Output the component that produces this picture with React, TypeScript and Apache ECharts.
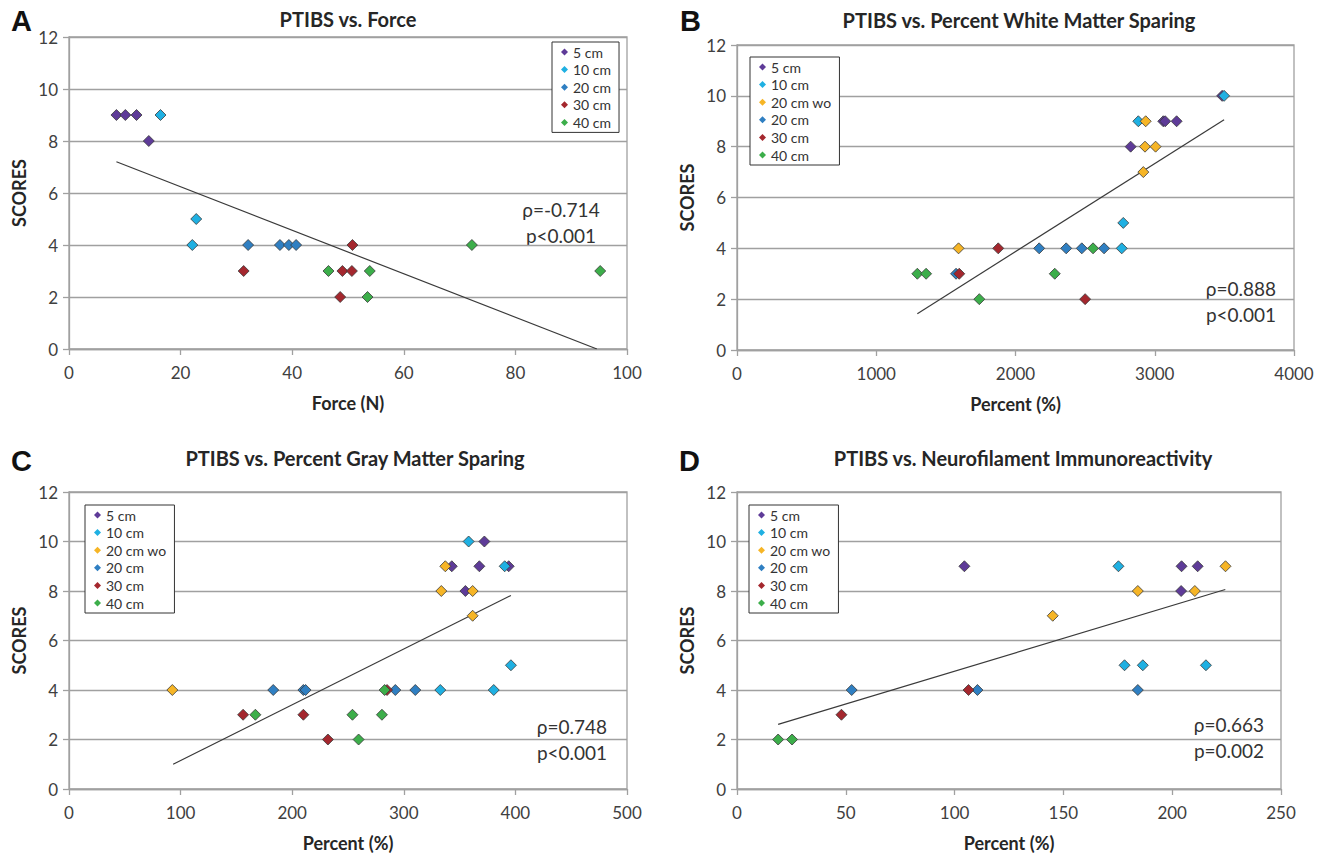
import React, { useEffect, useRef } from "react";
import * as echarts from "echarts";

// ---------- DATA ----------
const seriesNames = ["5 cm", "10 cm", "20 cm wo", "20 cm", "30 cm", "40 cm"];
const seriesColors = ["#5e3b98", "#1fb0e2", "#f6b526", "#2f7fc2", "#a4272e", "#3cae4a"];
const yTicks = [0, 2, 4, 6, 8, 10, 12];

// Panel A: PTIBS vs. Force
const forceLegend = ["5 cm", "10 cm", "20 cm", "30 cm", "40 cm"];
const force5cm = [[8.5, 9], [10.1, 9], [12.1, 9], [14.3, 8]];
const force10cm = [[16.4, 9], [22.8, 5], [22.1, 4]];
const force20cm = [[32.1, 4], [37.8, 4], [39.4, 4], [40.7, 4]];
const force30cm = [[31.3, 3], [49.0, 3], [50.7, 3], [48.6, 2], [50.8, 4]];
const force40cm = [[46.5, 3], [53.9, 3], [53.5, 2], [72.2, 4], [95.2, 3]];
const forceTrend = [[8.5, 7.2], [94.6, 0]];

// Panel B: PTIBS vs. Percent White Matter Sparing
const white5cm = [[2827, 8], [3061, 9], [3075, 9], [3157, 9], [3484, 10]];
const white10cm = [[2763, 4], [2774, 5], [2882, 9], [3498, 10]];
const white20cmWo = [[1591, 4], [2918, 7], [2930, 8], [3006, 8], [2935, 9]];
const white20cm = [[1573, 3], [2170, 4], [2364, 4], [2476, 4], [2636, 4]];
const white30cm = [[1596, 3], [1876, 4], [2500, 2]];
const white40cm = [[1295, 3], [1358, 3], [1740, 2], [2282, 3], [2557, 4]];
const whiteTrend = [[1295, 1.43], [3498, 9.06]];

// Panel C: PTIBS vs. Percent Gray Matter Sparing
const gray5cm = [[343, 9], [367.7, 9], [394, 9], [355.2, 8], [372.2, 10]];
const gray10cm = [[358.1, 10], [390.4, 9], [396, 5], [332.7, 4], [380.6, 4]];
const gray20cmWo = [[92.6, 4], [337.2, 9], [333.6, 8], [361.7, 8], [361.7, 7]];
const gray20cm = [[183, 4], [210, 4], [212, 4], [292.4, 4], [310.3, 4]];
const gray30cm = [[156, 3], [210, 3], [232, 2], [285, 4]];
const gray40cm = [[167, 3], [254, 3], [280.4, 3], [259.5, 2], [282.8, 4]];
const grayTrend = [[93.3, 1.0], [396, 7.82]];

// Panel D: PTIBS vs. Neurofilament Immunoreactivity
const nf5cm = [[104.5, 9], [204.3, 9], [211.7, 9], [204.1, 8]];
const nf10cm = [[175.3, 9], [178.1, 5], [186.5, 5], [215.5, 5]];
const nf20cmWo = [[224.5, 9], [184.2, 8], [210.4, 8], [145.1, 7]];
const nf20cm = [[52.7, 4], [110.5, 4], [184.2, 4]];
const nf30cm = [[48, 3], [106.4, 4]];
const nf40cm = [[18.9, 2], [25.3, 2]];
const nfTrend = [[18.9, 2.61], [224.4, 8.06]];

const panelLetters = ["A", "B", "C", "D"];
const panelTitles = [
  "PTIBS vs. Force",
  "PTIBS vs. Percent White Matter Sparing",
  "PTIBS vs. Percent Gray Matter Sparing",
  "PTIBS vs. Neurofilament Immunoreactivity",
];
const xAxisNames = ["Force (N)", "Percent (%)", "Percent (%)", "Percent (%)"];
const xMax = [100, 4000, 500, 250];
const xInterval = [20, 1000, 100, 50];
const rhoTexts = ["ρ=-0.714", "ρ=0.888", "ρ=0.748", "ρ=0.663"];
const pTexts = ["p<0.001", "p<0.001", "p<0.001", "p=0.002"];

// ---------- LAYOUT ----------
const grids = [
  { left: 69, top: 37, width: 558, height: 312 },
  { left: 737, top: 45, width: 557, height: 305 },
  { left: 69, top: 492, width: 558, height: 297 },
  { left: 737, top: 492, width: 544, height: 297 },
];
const legendPos = [
  { left: 552, top: 42 },
  { left: 750, top: 57 },
  { left: 85, top: 505 },
  { left: 749, top: 505 },
];
const letterPos = [
  { x: 11, y: 6 },
  { x: 680, y: 6 },
  { x: 11, y: 446 },
  { x: 679, y: 446 },
];
const titleCenter = [
  { x: 348, y: 21 },
  { x: 1019, y: 22 },
  { x: 355, y: 460 },
  { x: 1023, y: 460 },
];
const annotPos = [
  { x: 561, y: 208 },
  { x: 1241, y: 287 },
  { x: 572, y: 725 },
  { x: 1229, y: 723 },
];

const FONT = "Lato, 'Open Sans', sans-serif";

export default function App() {
  const ref = useRef<HTMLDivElement>(null);

  useEffect(() => {
    if (!ref.current) return;
    const chart = echarts.init(ref.current, null, { renderer: "svg" });

    const panelSeries: Record<string, number[][]>[] = [
      { "5 cm": force5cm, "10 cm": force10cm, "20 cm": force20cm, "30 cm": force30cm, "40 cm": force40cm },
      { "5 cm": white5cm, "10 cm": white10cm, "20 cm wo": white20cmWo, "20 cm": white20cm, "30 cm": white30cm, "40 cm": white40cm },
      { "5 cm": gray5cm, "10 cm": gray10cm, "20 cm wo": gray20cmWo, "20 cm": gray20cm, "30 cm": gray30cm, "40 cm": gray40cm },
      { "5 cm": nf5cm, "10 cm": nf10cm, "20 cm wo": nf20cmWo, "20 cm": nf20cm, "30 cm": nf30cm, "40 cm": nf40cm },
    ];
    const trends = [forceTrend, whiteTrend, grayTrend, nfTrend];
    const legends = [forceLegend, seriesNames, seriesNames, seriesNames];

    const series: any[] = [];
    panelSeries.forEach((ps, p) => {
      series.push({
        type: "line",
        name: "trend" + p,
        xAxisIndex: p,
        yAxisIndex: p,
        data: trends[p],
        symbol: "none",
        silent: true,
        lineStyle: { color: "#3a3a3a", width: 1.2 },
        z: 1,
      });
      seriesNames.forEach((n, i) => {
        if (!ps[n]) return;
        series.push({
          type: "scatter",
          name: n,
          xAxisIndex: p,
          yAxisIndex: p,
          data: ps[n],
          symbol: "diamond",
          symbolSize: 11,
          itemStyle: { color: seriesColors[i], borderColor: "#3a3a3a", borderWidth: 0.8, opacity: 1 },
          z: 2,
        });
      });
    });

    const axisLine = { show: true, lineStyle: { color: "#a0a0a0", width: 1.3 } };
    const axisTick = { show: true, length: 6, lineStyle: { color: "#a0a0a0", width: 1.3 } };

    const option: any = {
      animation: false,
      color: seriesColors,
      title: panelTitles.map((t, i) => ({
        text: t,
        left: titleCenter[i].x,
        top: titleCenter[i].y - 12,
        textAlign: "center",
        padding: 0,
        textStyle: { fontFamily: FONT, fontWeight: "bold", fontSize: 20, color: "#262626" },
      })),
      grid: grids.map((g) => ({ ...g, show: true, borderColor: "#a0a0a0", borderWidth: 1.3, backgroundColor: "#fff" })),
      xAxis: grids.map((_, i) => ({
        type: "value",
        gridIndex: i,
        min: 0,
        max: xMax[i],
        interval: xInterval[i],
        name: xAxisNames[i],
        nameLocation: "middle",
        nameGap: 45,
        nameTextStyle: { fontFamily: FONT, fontWeight: "bold", fontSize: 18, color: "#262626" },
        axisLine,
        axisTick,
        splitLine: { show: false },
        axisLabel: {
          fontFamily: FONT,
          fontSize: 17,
          color: "#404040",
          margin: 15,
          formatter: (v: number) => String(v),
        },
      })),
      yAxis: grids.map((_, i) => ({
        type: "value",
        gridIndex: i,
        min: yTicks[0],
        max: yTicks[yTicks.length - 1],
        interval: 2,
        name: "SCORES",
        nameLocation: "middle",
        nameGap: 41,
        nameTextStyle: { fontFamily: FONT, fontWeight: "bold", fontSize: 18, color: "#262626" },
        axisLine,
        axisTick,
        splitLine: { show: true, lineStyle: { color: "#a0a0a0", width: 1.3 } },
        axisLabel: { fontFamily: FONT, fontSize: 17, color: "#404040", margin: 11 },
      })),
      legend: legends.map((names, i) => ({
        data: names,
        orient: "vertical",
        left: legendPos[i].left,
        top: legendPos[i].top,
        icon: "diamond",
        itemWidth: 7,
        itemHeight: 7,
        itemGap: 3.6,
        padding: [3, 8, 3, 9],
        borderColor: "#333",
        borderWidth: 1,
        backgroundColor: "#fff",
        selectedMode: false,
        itemStyle: { borderWidth: 0 },
        textStyle: { fontFamily: FONT, fontSize: 14, color: "#333", lineHeight: 14 },
      })),
      graphic: [
        ...panelLetters.map((l, i) => ({
          type: "text",
          left: letterPos[i].x,
          top: letterPos[i].y,
          style: { text: l, font: "bold 29px 'Liberation Sans', Arial, sans-serif", fill: "#111" },
        })),
        ...rhoTexts.map((t, i) => ({
          type: "text",
          x: annotPos[i].x,
          y: annotPos[i].y - 12,
          style: {
            text: t + "\n" + pTexts[i],
            font: "19px " + FONT,
            fill: "#333",
            textAlign: "center",
            textVerticalAlign: "top",
            lineHeight: 26,
          },
        })),
      ],
      series,
    };

    chart.setOption(option);
    return () => chart.dispose();
  }, []);

  return (
    <div
      ref={ref}
      style={{ position: "absolute", left: 0, top: 0, width: 1324, height: 858, background: "#fff" }}
    />
  );
}
